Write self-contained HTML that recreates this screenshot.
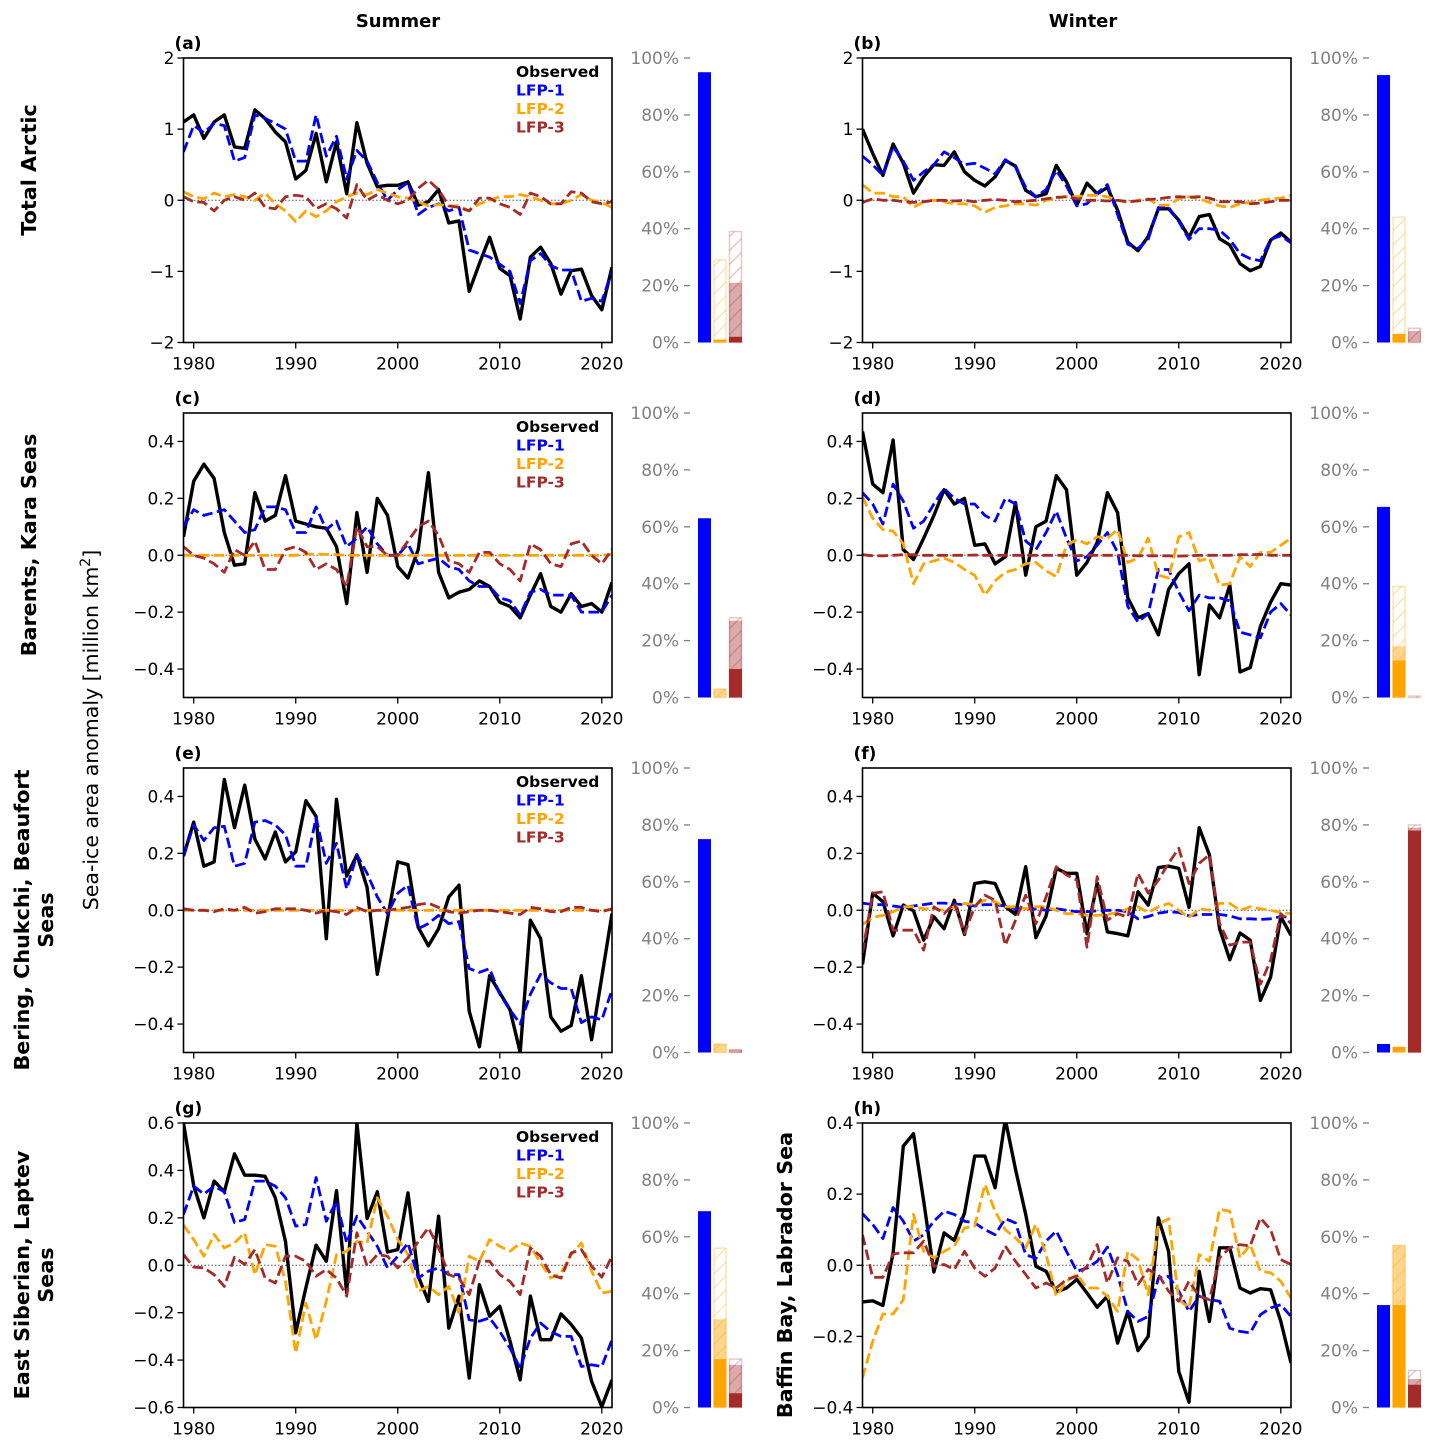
<!DOCTYPE html>
<html><head><meta charset="utf-8">
<style>
html,body{margin:0;padding:0;background:#fff;}
svg{display:block;font-family:"DejaVu Sans","Liberation Sans",sans-serif;}
</style></head>
<body>
<svg id="fig" width="1433" height="1451" viewBox="0 0 1433 1451" xmlns="http://www.w3.org/2000/svg">
<defs>
<pattern id="hatch-orange" patternUnits="userSpaceOnUse" width="14" height="14"><path d="M-3,17 L17,-3 M-3,3 L3,-3 M11,17 L17,11" stroke="rgba(255,165,0,0.35)" stroke-width="1.2"/></pattern>
<pattern id="hatch-brown" patternUnits="userSpaceOnUse" width="14" height="14"><path d="M-3,17 L17,-3 M-3,3 L3,-3 M11,17 L17,11" stroke="rgba(165,42,42,0.3)" stroke-width="1.2"/></pattern>
<pattern id="hatch-blue" patternUnits="userSpaceOnUse" width="14" height="14"><path d="M-3,17 L17,-3" stroke="rgba(0,0,255,0.3)" stroke-width="1.2"/></pattern>
</defs>
<text x="398" y="27" font-size="18" font-weight="bold" text-anchor="middle">Summer</text>
<text x="1083" y="27" font-size="18" font-weight="bold" text-anchor="middle">Winter</text>
<text transform="translate(36,170) rotate(-90)" font-size="20.7" font-weight="bold" text-anchor="middle">Total Arctic</text>
<text transform="translate(36,545) rotate(-90)" font-size="20.7" font-weight="bold" text-anchor="middle">Barents, Kara Seas</text>
<text transform="translate(29,920) rotate(-90)" font-size="20.7" font-weight="bold" text-anchor="middle"><tspan x="0" dy="0">Bering, Chukchi, Beaufort</tspan><tspan x="0" dy="24">Seas</tspan></text>
<text transform="translate(29,1275) rotate(-90)" font-size="20.7" font-weight="bold" text-anchor="middle"><tspan x="0" dy="0">East Siberian, Laptev</tspan><tspan x="0" dy="24">Seas</tspan></text>
<text transform="translate(792,1275) rotate(-90)" font-size="20.7" font-weight="bold" text-anchor="middle">Baffin Bay, Labrador Sea</text>
<text transform="translate(98,730) rotate(-90)" font-size="20.5" text-anchor="middle">Sea-ice area anomaly [million km<tspan dy="-8" font-size="14">2</tspan><tspan dy="8">]</tspan></text>
</svg>
<script>
const startYear = 1979, endYear = 2021;
// Panel (a) Total Arctic summer
const obsA = [1.10,1.20,0.87,1.10,1.20,0.75,0.73,1.27,1.15,0.96,0.82,0.30,0.42,0.94,0.26,0.82,0.09,1.09,0.52,0.19,0.21,0.21,0.26,-0.07,-0.02,0.15,-0.32,-0.29,-1.28,-0.89,-0.52,-0.96,-1.06,-1.67,-0.80,-0.66,-0.89,-1.32,-0.99,-0.97,-1.34,-1.54,-0.94];
const lfp1A = [0.68,1.05,0.95,1.08,1.05,0.55,0.60,1.20,1.15,1.08,1.00,0.55,0.55,1.20,0.62,0.90,0.30,0.70,0.55,0.25,0.00,0.15,0.25,-0.20,-0.10,-0.05,-0.15,-0.10,-0.70,-0.75,-0.80,-0.90,-1.00,-1.45,-0.85,-0.75,-0.92,-0.98,-0.98,-1.42,-1.38,-1.42,-1.00];
const lfp2A = [0.12,0.05,0.02,0.10,0.05,0.08,0.05,0.00,0.10,-0.05,-0.15,-0.30,-0.15,-0.23,-0.15,-0.02,0.05,0.10,0.08,0.15,0.10,0.05,0.03,-0.02,-0.08,-0.06,-0.08,-0.08,-0.15,-0.05,0.00,0.05,0.05,0.08,0.05,0.00,-0.05,-0.05,0.00,0.08,0.00,-0.03,-0.10];
const lfp3A = [0.05,-0.02,-0.03,-0.15,0.00,0.05,0.00,0.10,-0.10,-0.12,0.05,0.07,0.05,-0.12,-0.05,-0.12,-0.25,0.22,0.00,0.08,0.00,-0.05,0.00,0.17,0.28,0.15,-0.08,-0.10,-0.15,0.03,0.03,-0.05,-0.10,-0.20,0.10,0.05,-0.05,-0.05,0.12,0.10,-0.02,-0.05,-0.02];
// Panel (b) Total Arctic winter
const obsB = [1.00,0.66,0.35,0.79,0.52,0.10,0.33,0.50,0.49,0.68,0.40,0.28,0.20,0.33,0.56,0.48,0.14,0.05,0.09,0.49,0.26,-0.07,0.24,0.09,0.18,-0.14,-0.59,-0.71,-0.51,-0.12,-0.12,-0.28,-0.52,-0.23,-0.20,-0.54,-0.63,-0.89,-0.99,-0.93,-0.56,-0.46,-0.59];
const lfp1B = [0.62,0.50,0.35,0.75,0.55,0.28,0.40,0.50,0.68,0.60,0.50,0.52,0.45,0.37,0.57,0.47,0.18,0.05,0.15,0.42,0.20,-0.08,-0.05,0.10,0.22,-0.20,-0.62,-0.68,-0.55,-0.10,-0.10,-0.30,-0.55,-0.40,-0.40,-0.42,-0.55,-0.75,-0.82,-0.85,-0.55,-0.50,-0.60];
const lfp2B = [0.22,0.10,0.10,0.05,0.05,-0.10,-0.02,0.00,-0.02,-0.05,-0.05,-0.08,-0.17,-0.10,-0.08,-0.05,-0.05,-0.07,0.00,0.03,0.05,0.05,0.07,0.07,0.05,0.00,-0.03,0.00,0.02,-0.07,-0.07,0.02,0.05,0.02,-0.03,-0.08,-0.10,-0.05,-0.03,0.00,0.02,0.03,0.07];
const lfp3B = [-0.03,0.02,0.00,0.00,-0.02,-0.03,-0.02,0.00,0.00,-0.01,0.00,-0.02,0.00,0.01,0.00,-0.02,-0.01,0.00,0.02,0.04,0.05,0.02,0.00,0.00,-0.01,0.00,-0.02,-0.01,0.01,0.02,0.04,0.05,0.04,0.05,0.03,-0.02,-0.02,-0.02,-0.05,-0.04,-0.02,0.00,0.00];
// Panel (c) Barents-Kara summer
const obsC = [0.065,0.26,0.32,0.27,0.08,-0.035,-0.03,0.22,0.12,0.14,0.28,0.12,0.11,0.10,0.095,0.03,-0.17,0.15,-0.06,0.20,0.14,-0.04,-0.08,0.02,0.29,-0.06,-0.15,-0.13,-0.12,-0.09,-0.11,-0.165,-0.18,-0.22,-0.14,-0.065,-0.18,-0.20,-0.135,-0.18,-0.17,-0.20,-0.095];
const lfp1C = [0.10,0.16,0.14,0.15,0.16,0.12,0.08,0.09,0.17,0.17,0.16,0.08,0.08,0.17,0.09,0.12,0.03,0.06,0.10,0.04,0.00,0.00,0.04,-0.03,-0.02,-0.01,-0.04,-0.05,-0.09,-0.11,-0.11,-0.15,-0.16,-0.21,-0.13,-0.12,-0.14,-0.14,-0.14,-0.20,-0.20,-0.20,-0.14];
const lfp2C = [0,0,0,0,0,0,0,0,0,0,0,0,0.004,0.004,0.003,0.002,0,0,0,0,0,0,0,0,0,0,0,0,0,0,0,0,0,0,0,0,0,0,0,0,0,0,0.003];
const lfp3C = [0.03,0.00,-0.01,-0.03,-0.06,0.02,0.00,0.05,-0.05,-0.05,0.02,0.03,0.01,-0.05,-0.03,-0.05,-0.11,0.10,0.03,0.03,0.00,0.00,0.05,0.10,0.12,0.07,-0.02,-0.03,-0.06,0.01,0.01,-0.03,-0.05,-0.09,0.04,0.02,-0.03,-0.04,0.04,0.05,0.00,-0.03,0.02];
// Panel (d) Barents-Kara winter
const obsD = [0.435,0.25,0.22,0.405,0.02,-0.015,0.06,0.14,0.23,0.18,0.20,0.035,0.04,-0.03,-0.005,0.185,-0.07,0.10,0.12,0.28,0.23,-0.07,-0.025,0.045,0.22,0.15,-0.15,-0.22,-0.205,-0.28,-0.12,-0.065,-0.03,-0.42,-0.175,-0.22,-0.105,-0.41,-0.395,-0.25,-0.165,-0.10,-0.105];
const lfp1D = [0.22,0.18,0.11,0.25,0.19,0.095,0.12,0.18,0.235,0.20,0.18,0.18,0.14,0.12,0.20,0.18,0.05,0.02,0.08,0.155,0.06,-0.02,-0.005,0.035,0.08,0.01,-0.18,-0.235,-0.205,-0.05,-0.05,-0.13,-0.195,-0.14,-0.15,-0.15,-0.16,-0.27,-0.28,-0.29,-0.20,-0.17,-0.21];
const lfp2D = [0.205,0.13,0.09,0.085,0.04,-0.10,-0.03,-0.02,-0.01,-0.025,-0.05,-0.07,-0.14,-0.09,-0.06,-0.05,-0.03,-0.025,-0.055,-0.075,0.035,0.055,0.04,0.065,0.06,0.09,-0.025,-0.01,0.06,-0.07,-0.08,0.065,0.08,-0.02,-0.01,-0.105,-0.10,-0.005,-0.04,0.01,0.01,0.035,0.06];
const lfp3D = [0.002,-0.002,-0.002,0,0.002,0.002,0,0,0,0,0,0.001,0,0,0,0,0,0,0,0,0,-0.002,0,0,0,0,0,-0.002,-0.002,-0.002,-0.002,-0.003,-0.002,0,0,0,0,0.002,0.002,0.003,0,0,0];
// Panel (e) Bering-Chukchi-Beaufort summer
const obsE = [0.19,0.31,0.155,0.17,0.46,0.29,0.44,0.25,0.18,0.275,0.17,0.205,0.385,0.33,-0.10,0.39,0.12,0.195,0.08,-0.225,-0.03,0.17,0.16,-0.06,-0.125,-0.065,0.047,0.088,-0.355,-0.48,-0.23,-0.29,-0.35,-0.50,-0.035,-0.10,-0.375,-0.425,-0.405,-0.23,-0.455,-0.235,-0.012];
const lfp1E = [0.19,0.30,0.245,0.29,0.295,0.155,0.165,0.31,0.315,0.30,0.265,0.155,0.155,0.325,0.165,0.235,0.075,0.195,0.13,0.047,-0.012,0.06,0.088,-0.065,-0.047,-0.018,-0.047,-0.04,-0.205,-0.218,-0.205,-0.295,-0.35,-0.40,-0.295,-0.225,-0.255,-0.275,-0.275,-0.395,-0.375,-0.385,-0.28];
const lfp2E = [0,0,0,0,0,0,0,0,0,0,0,0,0,0,0,0,0,0,0,0,0,0,0,0,0,0,0,0,0,0,0,0,0,0,0,0,0,0,0,0,0,0,0.002];
const lfp3E = [0.005,0.00,0.00,-0.005,0.005,0.00,0.01,-0.01,-0.005,0.005,0.005,0.005,0.00,-0.01,0.00,-0.005,-0.015,0.01,-0.005,0.00,0.00,0.005,0.01,0.02,0.025,0.01,-0.005,-0.01,-0.005,0.00,0.00,-0.005,-0.01,-0.015,0.01,0.005,-0.005,-0.005,0.01,0.01,0.00,-0.005,0.005];
// Panel (f) Bering-Chukchi-Beaufort winter
const obsF = [-0.19,0.06,0.03,-0.09,0.018,-0.002,-0.105,-0.023,-0.065,0.035,-0.085,0.094,0.10,0.094,0.012,-0.014,0.153,-0.096,-0.02,0.147,0.13,0.13,-0.082,0.096,-0.076,-0.082,-0.09,0.065,0.018,0.15,0.155,0.147,0.01,0.29,0.195,-0.065,-0.174,-0.08,-0.105,-0.317,-0.235,-0.023,-0.088];
const lfp1F = [0.025,0.02,0.02,0.015,0.01,0.015,0.02,0.025,0.025,0.022,0.02,0.015,0.02,0.02,0.015,0.005,0.005,0.005,0.00,0.005,0.00,-0.005,-0.005,-0.002,0.00,0.00,-0.005,-0.03,-0.022,-0.01,-0.005,-0.008,-0.02,-0.015,-0.015,-0.015,-0.02,-0.03,-0.03,-0.032,-0.03,-0.022,-0.025];
const lfp2F = [-0.05,-0.025,-0.018,-0.005,0.012,0.012,0.005,0.005,0.00,0.012,0.024,0.02,0.035,0.03,0.012,0.012,0.005,0.012,0.012,0.00,-0.012,-0.012,-0.018,-0.018,-0.015,-0.008,0.005,0.012,-0.008,0.012,0.024,0.00,-0.025,0.005,0.00,0.024,0.024,0.00,0.012,0.005,0.00,-0.008,-0.012];
const lfp3F = [-0.15,0.06,0.065,-0.07,-0.07,-0.07,-0.14,0.012,-0.012,0.024,-0.082,0.012,0.053,0.035,-0.123,-0.035,0.053,-0.047,0.047,0.153,0.124,0.106,-0.13,0.118,-0.035,-0.012,-0.024,0.13,0.06,0.106,0.165,0.218,0.094,0.165,0.195,-0.047,-0.123,-0.112,-0.112,-0.26,-0.176,-0.012,-0.047];
// Panel (g) East Siberian-Laptev summer
const obsG = [0.60,0.335,0.20,0.355,0.31,0.47,0.38,0.38,0.375,0.285,0.10,-0.285,-0.095,0.085,0.017,0.315,-0.117,0.60,0.197,0.31,0.056,0.066,0.305,-0.046,-0.152,0.207,-0.265,-0.13,-0.476,-0.082,-0.215,-0.173,-0.32,-0.483,-0.13,-0.314,-0.314,-0.205,-0.25,-0.307,-0.49,-0.596,-0.483];
const lfp1G = [0.214,0.334,0.30,0.334,0.31,0.18,0.193,0.355,0.355,0.334,0.285,0.165,0.172,0.37,0.186,0.27,0.094,0.207,0.144,0.08,-0.011,0.038,0.094,-0.054,-0.025,-0.011,-0.04,-0.04,-0.23,-0.236,-0.222,-0.28,-0.35,-0.434,-0.307,-0.244,-0.28,-0.30,-0.30,-0.427,-0.42,-0.427,-0.314];
const lfp2G = [0.17,0.108,0.038,0.13,0.073,0.094,0.137,-0.04,0.087,0.08,-0.068,-0.37,-0.16,-0.314,-0.152,0.045,0.059,0.10,0.094,0.285,0.207,0.108,0.045,-0.11,-0.089,-0.124,-0.089,-0.20,0.038,0.017,0.108,0.08,0.059,0.094,0.08,0.01,-0.054,-0.032,0.045,0.094,-0.025,-0.117,-0.11];
const lfp3G = [0.045,-0.008,-0.011,-0.04,-0.089,0.034,0.003,0.066,-0.054,-0.075,0.038,0.038,0.017,-0.046,-0.018,-0.054,-0.13,0.137,-0.004,0.045,0.038,-0.011,0.031,0.10,0.158,0.073,-0.04,-0.054,-0.124,0.017,0.017,-0.04,-0.068,-0.124,0.073,0.038,-0.04,-0.054,0.052,0.066,-0.004,-0.05,0.038];
// Panel (h) Baffin Bay-Labrador winter
const obsH = [-0.103,-0.10,-0.113,0.035,0.335,0.37,0.18,-0.019,0.091,0.07,0.147,0.307,0.307,0.218,0.41,0.27,0.143,-0.003,-0.017,-0.075,-0.064,-0.04,-0.078,-0.118,-0.087,-0.219,-0.13,-0.24,-0.20,0.133,0.039,-0.299,-0.385,-0.017,-0.158,0.049,0.049,-0.064,-0.078,-0.066,-0.069,-0.158,-0.275];
const lfp1H = [0.145,0.115,0.075,0.162,0.124,0.068,0.086,0.124,0.152,0.143,0.124,0.119,0.10,0.086,0.131,0.119,0.03,0.019,0.068,0.096,0.039,-0.017,-0.008,0.011,0.051,-0.026,-0.13,-0.158,-0.144,-0.036,-0.031,-0.073,-0.13,-0.087,-0.097,-0.101,-0.177,-0.186,-0.19,-0.139,-0.12,-0.111,-0.144];
const lfp2H = [-0.317,-0.214,-0.137,-0.137,-0.097,0.143,0.039,0.021,0.039,0.054,0.105,0.11,0.227,0.152,0.10,0.077,0.049,0.115,0.03,-0.087,-0.045,-0.026,-0.064,-0.064,-0.087,-0.13,0.039,0.016,-0.083,0.115,0.131,-0.097,-0.12,0.03,0.011,0.157,0.152,0.021,0.058,-0.017,-0.021,-0.045,-0.092];
const lfp3H = [0.085,-0.034,-0.034,0.032,0.035,0.035,0.068,-0.003,0.002,-0.012,0.039,-0.008,-0.031,-0.008,0.054,0.011,-0.026,-0.064,-0.05,-0.064,-0.04,-0.031,-0.003,0.058,-0.05,0.021,0.011,-0.054,-0.012,-0.026,-0.073,-0.101,-0.045,-0.087,-0.097,0.021,0.049,0.058,0.054,0.133,0.10,0.016,0.002];
// Bar values in percent: [solid, light, outline] for LFP-1, LFP-2, LFP-3
const barBlue   = {a:[95,0,0], b:[94,0,0], c:[63,0,0], d:[67,0,0], e:[75,0,0], f:[3,0,0], g:[69,0,0], h:[36,0,0]};
const barOrange = {a:[1,0,29], b:[3,0,44], c:[0,3,3], d:[13,18,39], e:[0,3,3], f:[2,0,0], g:[17,31,56], h:[36,57,57]};
const barBrown  = {a:[2,21,39], b:[0,4,5], c:[10,27,28], d:[0,0,0.5], e:[0,1,1], f:[78,79,80], g:[5,15,17], h:[8,10,13]};
const bottomTicks = ['1980','1990','2000','2010','2020'];
const pctTicks = ['0%','20%','40%','60%','80%','100%'];

const NS = 'http://www.w3.org/2000/svg';
const svg = document.getElementById('fig');
function mk(tag, attrs, parent){ const e=document.createElementNS(NS,tag); for(const k in attrs) e.setAttribute(k,attrs[k]); (parent||svg).appendChild(e); return e; }
const rowTops=[58,413,768,1123], rowH=284.5;
const colLefts=[183.5,862.5], plotW=428.5;
const panels=[
 {id:'a',r:0,c:0,lo:-2,hi:2,ticks:[-2,-1,0,1,2],dec:0,s:[obsA,lfp1A,lfp2A,lfp3A],leg:true},
 {id:'b',r:0,c:1,lo:-2,hi:2,ticks:[-2,-1,0,1,2],dec:0,s:[obsB,lfp1B,lfp2B,lfp3B]},
 {id:'c',r:1,c:0,lo:-0.5,hi:0.5,ticks:[-0.4,-0.2,0,0.2,0.4],dec:1,s:[obsC,lfp1C,lfp2C,lfp3C],leg:true},
 {id:'d',r:1,c:1,lo:-0.5,hi:0.5,ticks:[-0.4,-0.2,0,0.2,0.4],dec:1,s:[obsD,lfp1D,lfp2D,lfp3D]},
 {id:'e',r:2,c:0,lo:-0.5,hi:0.5,ticks:[-0.4,-0.2,0,0.2,0.4],dec:1,s:[obsE,lfp1E,lfp2E,lfp3E],leg:true},
 {id:'f',r:2,c:1,lo:-0.5,hi:0.5,ticks:[-0.4,-0.2,0,0.2,0.4],dec:1,s:[obsF,lfp1F,lfp2F,lfp3F]},
 {id:'g',r:3,c:0,lo:-0.6,hi:0.6,ticks:[-0.6,-0.4,-0.2,0,0.2,0.4,0.6],dec:1,s:[obsG,lfp1G,lfp2G,lfp3G],leg:true},
 {id:'h',r:3,c:1,lo:-0.4,hi:0.4,ticks:[-0.4,-0.2,0,0.2,0.4],dec:1,s:[obsH,lfp1H,lfp2H,lfp3H]}
];
const colors=['#000','#0000ff','#ffa500','#a52a2a'];
const names=['observed','lfp-1','lfp-2','lfp-3'];
panels.forEach(p=>{
  const top=rowTops[p.r], bot=top+rowH, L=colLefts[p.c], R=L+plotW;
  const xs=yr=>L+(yr-startYear)/(endYear-startYear)*plotW;
  const ys=v=>bot-(v-p.lo)/(p.hi-p.lo)*rowH;
  const g=mk('g',{});
  
  
  const clipId='clip-'+p.id;
  const cp=mk('clipPath',{id:clipId},g); mk('rect',{x:L,y:top,width:plotW,height:rowH},cp);
  const z=mk('line',{x1:L,x2:R,y1:ys(0),y2:ys(0),stroke:'#555','stroke-width':1,'stroke-dasharray':'1.5,2'},g);
  
  
  [0,1,2,3].forEach(si=>{
    const arr=p.s[si];
    const pts=arr.map((v,i)=>xs(startYear+i).toFixed(1)+','+ys(v).toFixed(1)).join(' ');
    const attrs={points:pts,fill:'none',stroke:colors[si],'stroke-width':si===0?3.4:2.8,'stroke-linejoin':'round','clip-path':'url(#'+clipId+')'};
    if(si>0) attrs['stroke-dasharray']='10.5,4.5';
    const pl=mk('polyline',attrs,g);
    
    
  });
  const fr=mk('rect',{x:L,y:top,width:plotW,height:rowH,fill:'none',stroke:'#000','stroke-width':1.6},g);
  
  
  p.ticks.forEach(t=>{
    const y=ys(t);
    mk('line',{x1:L-6,x2:L,y1:y,y2:y,stroke:'#000','stroke-width':1.3},g);
    const lab=(t<0?'\u2212':'')+Math.abs(t).toFixed(p.dec);
    const tx=mk('text',{x:L-9,y:y+6,'font-size':17,'text-anchor':'end'},g);
    tx.textContent=lab;
    
    
  });
  bottomTicks.forEach(t=>{
    const x=xs(+t);
    mk('line',{x1:x,x2:x,y1:bot,y2:bot+6,stroke:'#000','stroke-width':1.3},g);
    const tx=mk('text',{x:x,y:bot+27,'font-size':17,'text-anchor':'middle'},g);
    tx.textContent=t;
    
    
  });
  const pl=mk('text',{x:L-9,y:top-9,'font-size':17,'font-weight':'bold'},g);
  pl.textContent='('+p.id+')';
  
  
  if(p.leg){
    const lg=mk('g',{},g);
    
    
    ['Observed','LFP-1','LFP-2','LFP-3'].forEach((n,i)=>{
      const t=mk('text',{x:516,y:top+19+i*18.5,'font-size':15.5,'font-weight':'bold',fill:colors[i]},lg);
      t.textContent=n;
      
      
    });
  }
  const off=p.c===0?0:679;
  const by=v=>bot-v/100*(bot-top);
  const bg=mk('g',{},g);
  
  
  pctTicks.forEach((t,i)=>{
    const y=by(i*20);
    mk('line',{x1:684+off,x2:690+off,y1:y,y2:y,stroke:'#808080','stroke-width':1.3},bg);
    const tx=mk('text',{x:679+off,y:y+6,'font-size':17,'text-anchor':'end',fill:'#808080'},bg);
    tx.textContent=t;
    
    
  });
  const specs=[[barBlue,'#0000ff','rgba(0,0,255,0.35)','rgba(0,0,255,0.3)','hatch-blue',698],
               [barOrange,'#ffa500','rgba(255,165,0,0.45)','rgba(255,165,0,0.3)','hatch-orange',713.5],
               [barBrown,'#a52a2a','rgba(165,42,42,0.4)','rgba(165,42,42,0.25)','hatch-brown',729]];
  specs.forEach((sp,k)=>{
    const v=sp[0][p.id], x=sp[5]+off, w=13;
    if(v[2]>0){const r=mk('rect',{x:x+0.5,y:by(v[2]),width:w-1,height:bot-by(v[2]),fill:'url(#'+sp[4]+')',stroke:sp[3],'stroke-width':1.5},bg);
      
      }
    if(v[1]>0){const r=mk('rect',{x:x,y:by(v[1]),width:w,height:bot-by(v[1]),fill:sp[2]},bg);
      
      }
    if(v[0]>0){const r=mk('rect',{x:x,y:by(v[0]),width:w,height:bot-by(v[0]),fill:sp[1]},bg);
      
      }
  });
});
</script>
</body></html>
